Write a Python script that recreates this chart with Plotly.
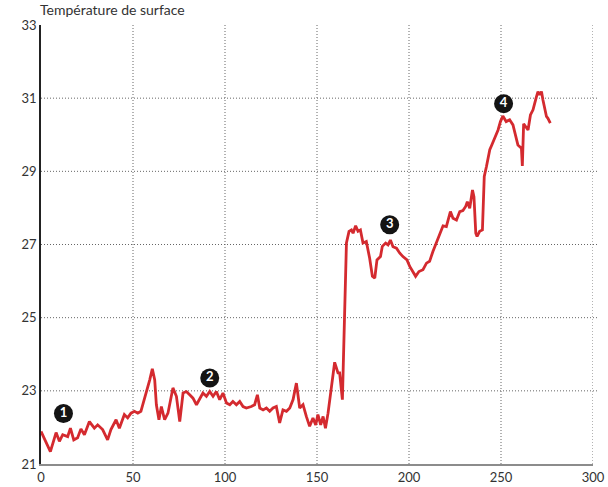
import plotly.graph_objects as go

# Data
x_vals = [0.0, 5.1, 8.2, 10.0, 11.8, 14.5, 16.0, 17.8, 19.9, 21.7, 23.6, 26.3, 29.0, 30.8, 33.5,
          36.2, 38.0, 40.8, 42.6, 45.3, 47.1, 48.9, 50.8, 52.6, 54.3, 56.2, 57.3, 59.1, 60.5, 61.8,
          62.7, 64.1, 65.4, 67.2, 69.0, 71.7, 73.6, 75.4, 77.2, 79.0, 80.8, 82.6, 84.5, 86.3, 88.0,
          89.9, 91.7, 93.5, 95.3, 97.1, 98.9, 100.8, 102.6, 104.3, 106.2, 108.0, 109.8, 111.6, 114.3,
          116.1, 117.6, 118.9, 120.7, 122.5, 124.3, 126.1, 127.9, 129.7, 131.5, 133.4, 135.2, 137.0,
          138.8, 140.6, 142.4, 144.2, 146.0, 147.8, 149.3, 150.5, 152.0, 153.3, 154.6, 156.0, 157.8,
          159.6, 161.4, 162.3, 163.8, 165.1, 166.0, 167.4, 168.7, 169.6, 171.0, 172.3, 173.6, 175.0,
          176.8, 178.6, 180.1, 181.4, 182.6, 184.5, 185.5, 187.3, 188.6, 189.9, 191.3, 193.2, 194.9,
          196.7, 198.9, 200.4, 202.2, 203.6, 205.4, 207.6, 209.5, 211.2, 213.0, 214.9, 216.3, 218.5,
          220.3, 222.5, 223.9, 225.8, 227.6, 229.3, 230.8, 231.7, 233.0, 234.5, 235.3, 236.3, 237.0,
          238.4, 239.9, 240.9, 242.1, 243.9, 245.0, 246.6, 248.4, 249.7, 251.0, 252.8, 254.7, 256.5,
          259.2, 261.1, 261.6, 262.3, 264.7, 266.0, 267.4, 269.2, 270.1, 271.0, 272.0, 272.8, 273.7,
          274.7, 275.5, 276.8]
temperature = [21.89, 21.34, 21.86, 21.62, 21.80, 21.75, 21.98, 21.66, 21.72, 21.96, 21.80, 22.16,
               21.98, 22.07, 21.94, 21.66, 21.94, 22.21, 21.98, 22.35, 22.26, 22.39, 22.44, 22.39,
               22.44, 22.76, 22.94, 23.30, 23.60, 23.30, 22.62, 22.21, 22.57, 22.21, 22.39, 23.08,
               22.85, 22.16, 22.94, 22.98, 22.89, 22.80, 22.62, 22.80, 22.94, 22.85, 22.98, 22.85,
               22.98, 22.76, 22.94, 22.67, 22.62, 22.71, 22.62, 22.71, 22.57, 22.53, 22.57, 22.62,
               22.89, 22.53, 22.48, 22.53, 22.44, 22.53, 22.57, 22.12, 22.48, 22.44, 22.53, 22.76,
               23.21, 22.53, 22.62, 22.30, 22.03, 22.26, 22.07, 22.35, 22.07, 22.30, 21.98, 22.39,
               23.12, 23.78, 23.49, 23.49, 22.76, 25.22, 27.04, 27.36, 27.40, 27.31, 27.51, 27.36,
               27.40, 27.04, 27.08, 26.63, 26.13, 26.08, 26.58, 26.67, 26.95, 27.04, 26.99, 27.12,
               26.94, 26.90, 26.77, 26.67, 26.58, 26.40, 26.26, 26.13, 26.26, 26.31, 26.49, 26.54,
               26.81, 27.04, 27.22, 27.51, 27.49, 27.90, 27.72, 27.67, 27.90, 27.93, 28.04, 28.17,
               27.99, 28.49, 28.31, 27.31, 27.22, 27.36, 27.40, 28.86, 29.13, 29.59, 29.72, 29.93,
               30.13, 30.36, 30.51, 30.36, 30.41, 30.27, 29.72, 29.63, 29.15, 30.30, 30.13, 30.54,
               30.68, 31.03, 31.18, 31.09, 31.18, 30.95, 30.77, 30.50, 30.45, 30.32]

marker_x = [12.2, 91.7, 189.5, 251.4]
marker_y = [22.38, 23.35, 27.54, 30.85]
marker_labels = ["1", "2", "3", "4"]

x_ticks = [0, 50, 100, 150, 200, 250, 300]
y_ticks = [21, 23, 25, 27, 29, 31, 33]
y_grid = [23, 25, 27, 29, 31]

fig = go.Figure()
fig.add_trace(go.Scatter(
    x=x_vals, y=temperature, mode="lines",
    line=dict(color="#d42a2f", width=2.8, shape="linear"),
    hoverinfo="skip", showlegend=False,
))
fig.add_trace(go.Scatter(
    x=marker_x, y=marker_y, mode="markers+text",
    marker=dict(size=19, color="#141414", line=dict(width=0)),
    text=marker_labels, textposition="middle center",
    textfont=dict(family="Lato", size=13, color="white", weight="bold"),
    hoverinfo="skip", showlegend=False,
))

grid_line = dict(color="#666666", width=1, dash="1px,2px")
shapes = []
for v in y_grid:
    shapes.append(dict(type="line", xref="paper", yref="y", x0=0, x1=1.01, y0=v, y1=v,
                       line=grid_line, layer="below"))
for v in x_ticks[1:]:
    shapes.append(dict(type="line", xref="x", yref="y", x0=v, x1=v, y0=21, y1=33,
                       line=grid_line, layer="below"))

fig.update_layout(
    width=608, height=487,
    margin=dict(l=41, r=15, t=25, b=23, autoexpand=False),
    paper_bgcolor="white", plot_bgcolor="white",
    shapes=shapes,
    font=dict(family="Lato", size=13, color="#333333"),
    title=dict(text="Température de surface", x=0, xref="container", xanchor="left",
               y=1, yref="container", yanchor="top", pad=dict(l=40, t=5),
               font=dict(family="Lato", size=14, color="#333333")),
    xaxis=dict(range=[0, 300], tickvals=x_ticks, showgrid=False, zeroline=False,
               showline=True, linecolor="#8c8c8c", linewidth=2, ticks="", automargin=False,
               tickfont=dict(family="Lato", size=13, color="#333333"), fixedrange=True),
    yaxis=dict(range=[21, 33], tickvals=y_ticks, showgrid=False, zeroline=False,
               showline=True, linecolor="#222222", linewidth=1.5, ticks="", automargin=False,
               tickfont=dict(family="Lato", size=13, color="#333333"), fixedrange=True),
)

fig.write_html("out.html", config={"displayModeBar": False},
               post_script="document.body.style.margin='0';document.body.style.overflow='hidden';")
